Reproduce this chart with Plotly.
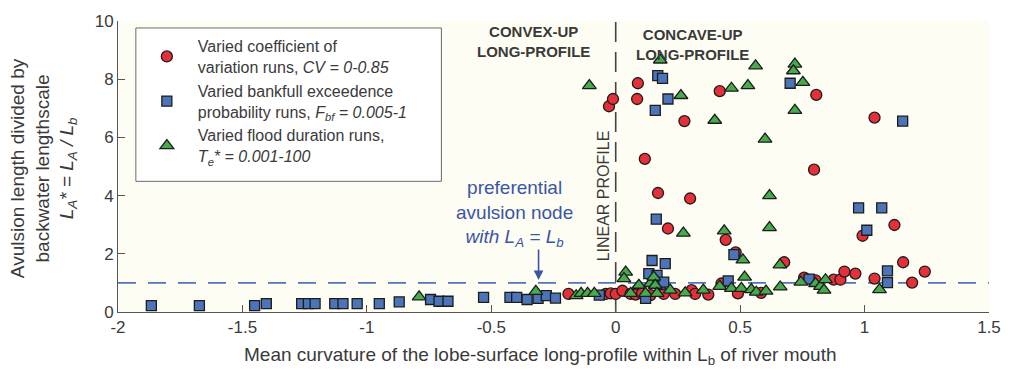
import plotly.graph_objects as go

# ---------------- data ----------------
cv_x = [-0.19, -0.04, -0.02, 0.0, 0.027, 0.06, 0.08, 0.106, 0.14, 0.193, 0.239, 0.305, 0.319,
        0.372, 0.425, 0.491, 0.584, 0.757, 0.803, 0.876, 0.903, 0.919, 0.963, 1.04, 1.155,
        1.191, 1.242, 0.677, 0.482, 0.442, 0.992, 1.12, 0.21, 0.299, 0.17, 0.797, 0.117,
        1.04, 0.276, -0.027, -0.011, 0.086, 0.089, 0.418, 0.806]
cv_y = [0.62, 0.62, 0.64, 0.62, 0.73, 0.62, 0.60, 0.64, 0.58, 0.62, 0.62, 0.75, 0.62,
        0.60, 0.98, 0.64, 0.66, 1.18, 1.09, 1.11, 1.11, 1.39, 1.32, 1.15, 1.71,
        1.01, 1.39, 1.71, 2.05, 2.48, 2.62, 2.99, 2.87, 3.90, 4.09, 4.89, 5.26,
        6.68, 6.56, 7.07, 7.32, 7.32, 7.86, 7.59, 7.46]

fbf_x = [-1.866, -1.673, -1.451, -1.404, -1.262, -1.235, -1.208, -1.129, -1.096, -1.039,
         -0.95, -0.87, -0.744, -0.71, -0.674, -0.531, -0.425, -0.398, -0.356, -0.312,
         -0.279, -0.242, -0.066, 0.12, 0.179, 0.133, 0.166, 0.193, 0.146, 0.199, 0.163,
         0.159, 0.21, 0.169, 0.188, 0.452, 0.475, 0.777, 0.701, 0.976, 1.069, 1.009,
         1.092, 1.092, 1.153]
fbf_y = [0.22, 0.22, 0.22, 0.29, 0.29, 0.29, 0.29, 0.29, 0.29, 0.29,
         0.29, 0.35, 0.43, 0.37, 0.37, 0.50, 0.50, 0.50, 0.43, 0.47,
         0.56, 0.48, 0.58, 0.47, 0.95, 1.32, 1.26, 1.03, 1.77, 1.66, 3.19,
         6.93, 7.32, 8.12, 8.03, 1.07, 1.97, 1.13, 7.86, 3.58, 3.58, 2.81,
         1.41, 1.01, 6.56]

te_x = [-0.79, -0.321, -0.159, -0.139, -0.113, -0.086, -0.106, 0.04, 0.033, 0.06, 0.093,
        0.12, 0.139, 0.153, 0.159, 0.166, 0.219, 0.279, 0.352, 0.418, 0.465, 0.505, 0.518,
        0.545, 0.565, 0.604, 0.661, 0.744, 0.803, 0.823, 0.843, 0.837, 1.06, 0.511, 0.66,
        0.436, 0.272, 0.618, 0.618, 0.60, 0.398, 0.262, 0.179, 0.465, 0.531, 0.562, 0.72,
        0.714, 0.752, 0.72]
te_y = [0.52, 0.71, 0.56, 0.64, 0.64, 0.64, 7.78, 1.37, 1.15, 0.64, 0.92,
        0.64, 0.98, 1.20, 0.92, 0.64, 0.75, 0.66, 0.75, 0.88, 0.81, 0.81, 1.20,
        0.77, 0.68, 0.72, 0.86, 1.03, 0.98, 0.88, 1.11, 0.75, 0.77, 1.79, 1.62,
        2.79, 2.71, 2.90, 4.00, 5.94, 6.59, 7.44, 8.66, 7.69, 7.78, 8.46, 8.52,
        8.29, 7.89, 6.93]

x_tickvals = [-2, -1.5, -1, -0.5, 0, 0.5, 1, 1.5]
x_ticktext = ["-2", "-1.5", "-1", "-0.5", "0", "0.5", "1", "1.5"]
y_tickvals = [0, 2, 4, 6, 8, 10]
y_ticktext = ["0", "2", "4", "6", "8", "10"]

LINEAR_PROFILE_X = 0
PREFERENTIAL_Y = 1

names = [
    "Varied coefficient of<br>variation runs, <i>CV = 0-0.85</i>",
    "Varied bankfull exceedence<br>probability runs, <i>F<sub>bf</sub> = 0.005-1</i>",
    "Varied flood duration runs,<br><i>T<sub>e</sub>* = 0.001-100</i>",
]

FONT = "Liberation Sans, Arial, Helvetica, sans-serif"
TXT = "#3a3a3a"
BLUE_TXT = "#3b55a6"

fig = go.Figure()
fig.add_trace(go.Scatter(x=cv_x, y=cv_y, mode="markers", name=names[0],
                         marker=dict(symbol="circle", size=11, color="#e5303a",
                                     line=dict(color="#1c1c1c", width=1.3))))
fig.add_trace(go.Scatter(x=fbf_x, y=fbf_y, mode="markers", name=names[1],
                         marker=dict(symbol="square", size=10, color="#4b74b9",
                                     line=dict(color="#1c1c1c", width=1.3))))
fig.add_trace(go.Scatter(x=te_x, y=te_y, mode="markers", name=names[2],
                         marker=dict(symbol="triangle-up", size=12, color="#45ab4b",
                                     line=dict(color="#1c1c1c", width=1.3))))

fig.add_shape(type="line", xref="paper", x0=0, x1=1, yref="y",
              y0=PREFERENTIAL_Y, y1=PREFERENTIAL_Y, layer="below",
              line=dict(color="#5173bd", width=1.8, dash="18px,12px"))
fig.add_shape(type="line", xref="x", x0=LINEAR_PROFILE_X, x1=LINEAR_PROFILE_X,
              yref="paper", y0=0, y1=1, layer="below",
              line=dict(color="#444444", width=1.6, dash="20px,10px"))
# legend frame (box is larger than plotly's auto-sized legend)
fig.add_shape(type="rect", xref="paper", yref="paper", x0=0.0205, x1=0.3713,
              y0=0.449, y1=0.976, layer="above", fillcolor="white",
              line=dict(color="#6a6a6a", width=1))

ann = []
ann.append(dict(x=-0.048, y=4.0, xref="x", yref="y", text="LINEAR PROFILE", textangle=-90,
                showarrow=False, font=dict(family=FONT, size=16, color=TXT)))
ann.append(dict(x=-0.33, y=9.28, xref="x", yref="y", text="<b>CONVEX-UP<br>LONG-PROFILE</b>",
                showarrow=False, font=dict(family=FONT, size=15, color=TXT)))
ann.append(dict(x=0.31, y=9.2, xref="x", yref="y", text="<b>CONCAVE-UP<br>LONG-PROFILE</b>",
                showarrow=False, font=dict(family=FONT, size=15, color=TXT)))
ann.append(dict(x=-0.408, y=3.4, xref="x", yref="y",
                text="preferential<br>avulsion node<br><i>with L<sub>A</sub> = L<sub>b</sub></i>",
                showarrow=False, font=dict(family=FONT, size=19, color=BLUE_TXT)))
ann.append(dict(x=-0.31, y=1.1, xref="x", yref="y", ax=-0.31, ay=2.2, axref="x", ayref="y",
                text="", showarrow=True, arrowhead=2, arrowsize=1.2, arrowwidth=1.6,
                arrowcolor=BLUE_TXT))
ann.append(dict(x=-0.0854, y=0.493, xref="paper", yref="paper", textangle=-90,
                text="Avulsion length divided by<br>backwater lengthscale<br>"
                     "<i>L<sub>A</sub>* = L<sub>A</sub> / L<sub>b</sub></i>",
                showarrow=False, xanchor="center", yanchor="middle",
                font=dict(family=FONT, size=19, color=TXT)))
ann.append(dict(x=0.485, y=-0.15, xref="paper", yref="paper",
                text="Mean curvature of the lobe-surface long-profile within L<sub>b</sub> of river mouth",
                showarrow=False, xanchor="center", yanchor="middle",
                font=dict(family=FONT, size=19, color=TXT)))

fig.update_layout(
    width=1013, height=372,
    margin=dict(l=118, r=17, t=18, b=60),
    paper_bgcolor="white", plot_bgcolor="#fdfdf3",
    font=dict(family=FONT, color=TXT),
    showlegend=True,
    legend=dict(x=0.0205, y=0.972, xanchor="left", yanchor="top",
                bgcolor="rgba(0,0,0,0)", borderwidth=0,
                font=dict(family=FONT, size=16, color=TXT), itemwidth=52),
    annotations=ann,
)
fig.update_xaxes(range=[-2, 1.5], tickvals=x_tickvals, ticktext=x_ticktext,
                 showgrid=False, zeroline=False, showline=True, linecolor="#555555",
                 ticks="inside", ticklen=7, tickcolor="#555555",
                 tickfont=dict(family=FONT, size=17, color=TXT))
fig.update_yaxes(range=[0, 10], tickvals=y_tickvals, ticktext=y_ticktext,
                 showgrid=False, zeroline=False, showline=True, linecolor="#555555",
                 ticks="inside", ticklen=7, tickcolor="#555555",
                 tickfont=dict(family=FONT, size=17, color=TXT))

fig.write_html("out.html")
